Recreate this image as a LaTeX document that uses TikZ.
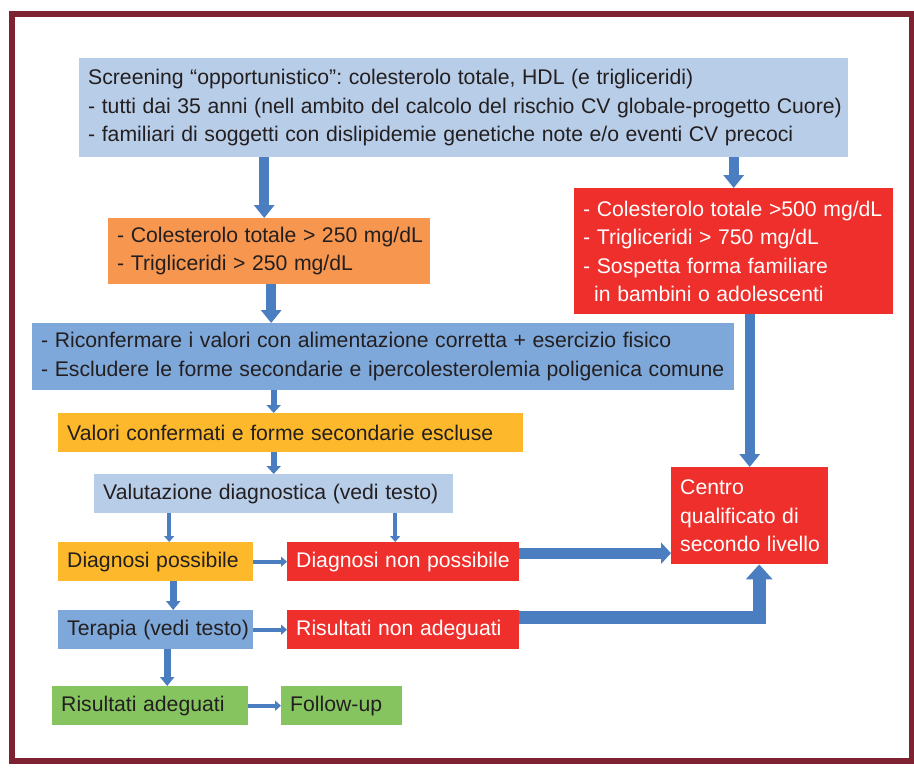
\documentclass[tikz,border=0pt]{standalone}
\usepackage{fontspec}
\setmainfont{Liberation Sans}
\usetikzlibrary{positioning, arrows.meta}

\definecolor{cornice}{HTML}{7E2232}
\definecolor{celeste}{HTML}{B8CDE8}
\definecolor{azzurro}{HTML}{7FA8DA}
\definecolor{arancio}{HTML}{F7964F}
\definecolor{giallo}{HTML}{FDB92B}
\definecolor{rosso}{HTML}{EE2F2B}
\definecolor{verde}{HTML}{86C45F}
\definecolor{freccia}{HTML}{4A7EC0}
\definecolor{testo}{HTML}{231F20}

\begin{document}
\begin{tikzpicture}[x=1pt, y=-1pt,
  box/.style={anchor=north west, inner xsep=0pt, inner ysep=0pt, align=left,
    text=testo, font=\fontsize{21.2}{28.5}\selectfont,
    execute at begin node={\leftskip=9pt\frenchspacing\spaceskip=.31em\relax
      \rightskip=0pt plus 1fil minus 10pt\relax}},
  fgrande/.style={draw=freccia, line width=10pt, -{Triangle[width=20pt,length=13pt]}},
  fmedia/.style={draw=freccia, line width=7pt, -{Triangle[width=14pt,length=9pt]}},
  fpiccola/.style={draw=freccia, line width=6pt, -{Triangle[width=14pt,length=8pt]}},
  fsottile/.style={draw=freccia, line width=4pt, -{Triangle[width=10pt,length=6pt]}}]

\useasboundingbox (0,0) rectangle (914,768);
\draw[cornice, line width=6pt] (11.5,14) rectangle (911.5,761);

\node[box, fill=celeste, text width=769pt, minimum height=99pt] (screen) at (79,58)
  {Screening “opportunistico”: colesterolo totale, HDL (e trigliceridi)\\
   - tutti dai 35 anni (nell ambito del calcolo del rischio CV globale-progetto Cuore)\\
   - familiari di soggetti con dislipidemie genetiche note e/o eventi CV precoci};
\node[box, fill=arancio, text width=322pt, minimum height=66pt] (alto) at (108,218)
  {- Colesterolo totale > 250 mg/dL\\
   - Trigliceridi > 250 mg/dL};
\node[box, fill=rosso, text=white, text width=319pt, minimum height=126pt] (grave) at (574,188)
  {- Colesterolo totale >500 mg/dL\\
   - Trigliceridi > 750 mg/dL\\
   - Sospetta forma familiare\\
   \hspace*{11pt}in bambini o adolescenti};
\node[box, fill=azzurro, text width=702pt, minimum height=67pt] (riconf) at (32,323)
  {- Riconfermare i valori con alimentazione corretta + esercizio fisico\\
   - Escludere le forme secondarie e ipercolesterolemia poligenica comune};
\node[box, fill=giallo, text width=465pt, minimum height=39pt] (conf) at (58,413)
  {Valori confermati e forme secondarie escluse};
\node[box, fill=celeste, text width=359pt, minimum height=39pt] (valut) at (94,474)
  {Valutazione diagnostica (vedi testo)};
\node[box, fill=giallo, text width=195pt, minimum height=39pt] (possib) at (58,542)
  {Diagnosi possibile};
\node[box, fill=rosso, text=white, text width=232pt, minimum height=39pt] (nonposs) at (287,542)
  {Diagnosi non possibile};
\node[box, fill=azzurro, text width=195pt, minimum height=39pt] (terapia) at (58,610)
  {Terapia (vedi testo)};
\node[box, fill=rosso, text=white, text width=232pt, minimum height=39pt] (nonadeg) at (287,610)
  {Risultati non adeguati};
\node[box, fill=verde, text width=196pt, minimum height=39pt] (adeg) at (52,686)
  {Risultati adeguati};
\node[box, fill=verde, text width=121pt, minimum height=39pt] (follow) at (281,686)
  {Follow-up};
\node[box, fill=rosso, text=white, text width=157pt, minimum height=97pt] (centro) at (671,467)
  {Centro\\ qualificato di\\ secondo livello};

\coordinate (p1) at ([xshift=-5pt]alto.north);
\coordinate (p2) at ([xshift=2pt]alto.south);
\coordinate (p3) at ([xshift=-104.5pt]valut.south);
\coordinate (p4) at ([xshift=121.5pt]valut.south);
\coordinate (p5) at ([xshift=17.5pt]possib.south);
\coordinate (p6) at ([xshift=11.5pt]terapia.south);
\coordinate (a1) at ([yshift=8.5pt]nonposs.east);
\coordinate (a2) at ([yshift=12pt]nonadeg.east);
\coordinate (c2) at ([xshift=9.5pt]centro.south);

\draw[fgrande] (p1 |- screen.south) -- (p1);
\draw[fgrande] (screen.south -| grave.north) -- (grave.north);
\draw[fgrande] (p2) -- (p2 |- riconf.north);
\draw[fgrande] (grave.south -| centro.north) -- (centro.north);
\draw[fpiccola] (riconf.south -| valut.north) -- (conf.north -| valut.north);
\draw[fpiccola] (conf.south -| valut.north) -- (valut.north);
\draw[fsottile] (p3) -- (p3 |- possib.north);
\draw[fsottile] (p4) -- (p4 |- nonposs.north);
\draw[fmedia] (p5) -- (p5 |- terapia.north);
\draw[fmedia] (p6) -- (p6 |- adeg.north);
\draw[fsottile] (possib.east) -- (nonposs.west);
\draw[fsottile] (terapia.east) -- (nonadeg.west);
\draw[fsottile] (adeg.east) -- (follow.west);
\draw[fgrande, line width=11pt, -{Triangle[width=21pt,length=10pt]}] (a1) -- (a1 -| centro.west);
\draw[fgrande, line width=13pt, -{Triangle[width=26pt,length=15pt]}] (a2) -| (c2);
\end{tikzpicture}
\end{document}
